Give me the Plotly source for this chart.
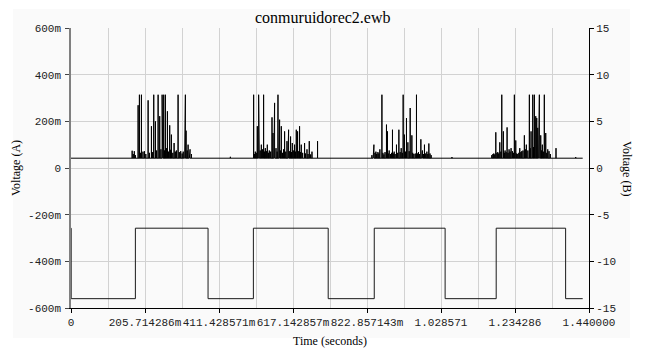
import plotly.graph_objects as go

# ---- Channel A: noise bursts (amperes on the left scale) ----
base_a = 0.042
t_end = 1.4225

burst1_t = [0.170, 0.173, 0.176, 0.179, 0.1866, 0.1902, 0.1930, 0.1958, 0.2000, 0.2041,
            0.2080, 0.2144, 0.2180, 0.2236, 0.2270, 0.2300, 0.2347, 0.2380, 0.2422, 0.2466,
            0.2500, 0.2533, 0.2550, 0.2577, 0.2600, 0.2624, 0.2650, 0.2680, 0.2710, 0.2744,
            0.2770, 0.2791, 0.2830, 0.2866, 0.2900, 0.2930, 0.2977, 0.3010, 0.3050, 0.3090,
            0.3120, 0.3160, 0.3180, 0.3199, 0.3230, 0.3255, 0.3290, 0.3310, 0.3347]
burst1_v = [0.074, 0.060, 0.072, 0.055, 0.269, 0.314, 0.065, 0.314, 0.070, 0.072,
            0.060, 0.290, 0.065, 0.179, 0.068, 0.314, 0.200, 0.075, 0.314, 0.222,
            0.080, 0.314, 0.090, 0.314, 0.075, 0.314, 0.085, 0.243, 0.070, 0.183,
            0.078, 0.143, 0.065, 0.107, 0.070, 0.075, 0.314, 0.068, 0.072, 0.062,
            0.070, 0.310, 0.314, 0.160, 0.075, 0.100, 0.070, 0.080, 0.060]

burst2_t = [0.5077, 0.5100, 0.5124, 0.5150, 0.5180, 0.5216, 0.5235, 0.5260, 0.5291, 0.5320,
            0.5354, 0.5380, 0.5402, 0.5430, 0.5457, 0.5490, 0.5513, 0.5550, 0.5588, 0.5615,
            0.5640, 0.5660, 0.5699, 0.5730, 0.5754, 0.5780, 0.5799, 0.5820, 0.5846, 0.5880,
            0.5910, 0.5938, 0.5970, 0.6004, 0.6030, 0.6049, 0.6080, 0.6104, 0.6130, 0.6152,
            0.6180, 0.6215, 0.6240, 0.6263, 0.6299, 0.6330, 0.6354, 0.6380, 0.6401, 0.6440,
            0.6493, 0.6520, 0.6560, 0.6590, 0.6624, 0.6660, 0.6699, 0.6854]
burst2_v = [0.314, 0.060, 0.070, 0.065, 0.179, 0.314, 0.314, 0.075, 0.100, 0.080,
            0.314, 0.070, 0.085, 0.072, 0.100, 0.065, 0.075, 0.070, 0.217, 0.150,
            0.080, 0.279, 0.085, 0.070, 0.314, 0.072, 0.207, 0.075, 0.179, 0.065,
            0.080, 0.157, 0.070, 0.115, 0.075, 0.164, 0.072, 0.135, 0.068, 0.107,
            0.075, 0.100, 0.070, 0.164, 0.157, 0.072, 0.179, 0.068, 0.100, 0.065,
            0.107, 0.062, 0.080, 0.060, 0.115, 0.058, 0.070, 0.115]

burst3_t = [0.8365, 0.8400, 0.8421, 0.8450, 0.8476, 0.8500, 0.8532, 0.8560, 0.8587, 0.8643,
            0.8670, 0.8698, 0.8730, 0.8770, 0.8798, 0.8820, 0.8845, 0.8880, 0.8910, 0.8937,
            0.8960, 0.8984, 0.9010, 0.9048, 0.9080, 0.9115, 0.9150, 0.9179, 0.9210, 0.9234,
            0.9270, 0.9300, 0.9326, 0.9365, 0.9400, 0.9429, 0.9476, 0.9500, 0.9531, 0.9570,
            0.9604, 0.9630, 0.9659, 0.9690, 0.9726, 0.9750, 0.9770, 0.9800, 0.9826, 0.9860,
            0.9893, 0.9920, 0.9948, 0.9980, 1.0012]
burst3_v = [0.055, 0.062, 0.100, 0.065, 0.070, 0.060, 0.068, 0.062, 0.080, 0.314,
            0.065, 0.058, 0.068, 0.186, 0.157, 0.062, 0.075, 0.060, 0.065, 0.164,
            0.062, 0.070, 0.060, 0.100, 0.065, 0.164, 0.068, 0.085, 0.065, 0.314,
            0.143, 0.070, 0.214, 0.110, 0.072, 0.257, 0.140, 0.065, 0.060, 0.062,
            0.314, 0.062, 0.068, 0.060, 0.123, 0.065, 0.075, 0.060, 0.100, 0.062,
            0.070, 0.060, 0.105, 0.062, 0.055]

burst4_t = [1.1698, 1.1730, 1.1753, 1.1780, 1.1809, 1.1840, 1.1864, 1.1890, 1.1920, 1.1950,
            1.1975, 1.2020, 1.2045, 1.2067, 1.2095, 1.2123, 1.2150, 1.2178, 1.2205, 1.2234,
            1.2270, 1.2300, 1.2325, 1.2364, 1.2390, 1.2420, 1.2450, 1.2475, 1.2505, 1.2531,
            1.2565, 1.2603, 1.2630, 1.2658, 1.2700, 1.2742, 1.2765, 1.2789, 1.2836, 1.2860,
            1.2881, 1.2920, 1.2947, 1.2975, 1.3000, 1.3020, 1.3058, 1.3080, 1.3103, 1.3130,
            1.3158, 1.3197, 1.3225, 1.3253, 1.3289, 1.3325, 1.3483]
burst4_v = [0.055, 0.060, 0.062, 0.058, 0.153, 0.065, 0.068, 0.062, 0.110, 0.070,
            0.314, 0.157, 0.065, 0.075, 0.068, 0.174, 0.065, 0.080, 0.070, 0.085,
            0.072, 0.065, 0.314, 0.118, 0.062, 0.060, 0.065, 0.085, 0.068, 0.072,
            0.075, 0.140, 0.080, 0.100, 0.075, 0.314, 0.085, 0.157, 0.314, 0.090,
            0.314, 0.222, 0.214, 0.172, 0.085, 0.314, 0.140, 0.075, 0.100, 0.070,
            0.314, 0.150, 0.065, 0.080, 0.072, 0.060, 0.085]

# small isolated blips between bursts
blip_t = [0.443, 1.059, 1.403]
blip_v = [0.048, 0.047, 0.047]

# ---- Channel B: square wave (volts on the right scale) ----
sq_t = [0.0, 0.0005, 0.179, 0.381, 0.507, 0.715, 0.843, 1.040, 1.182, 1.375, t_end]
sq_v = [-6.45, -14.0, -6.45, -14.0, -6.45, -14.0, -6.45, -14.0, -6.45, -14.0, -14.0]

# ---- Axis ticks ----
x_tickvals = [i * 1.44 / 7 for i in range(8)]
x_ticktext = ["0", "205.714286m", "411.428571m", "617.142857m", "822.857143m",
              "1.028571", "1.234286", "1.440000"]
ya_tickvals = [-0.6, -0.4, -0.2, 0.0, 0.2, 0.4, 0.6]
ya_ticktext = ["-600m", "-400m", "-200m", "0", "200m", "400m", "600m"]
yb_tickvals = [-15, -10, -5, 0, 5, 10, 15]

# Build the spike trace: each event is a vertical stroke rising from the baseline
events = sorted(zip(burst1_t + burst2_t + burst3_t + burst4_t + blip_t,
                    burst1_v + burst2_v + burst3_v + burst4_v + blip_v))
sx, sy = [0.0], [base_a]
for t, v in events:
    sx += [t, t, t]
    sy += [base_a, v, base_a]
sx.append(t_end)
sy.append(base_a)

fig = go.Figure()
fig.add_trace(go.Scatter(x=sq_t, y=sq_v, mode="lines", line=dict(color="#1a1a1a", width=1, shape="hv"),
                         yaxis="y2", showlegend=False, hoverinfo="skip"))
fig.add_trace(go.Scatter(x=sx, y=sy, mode="lines", line=dict(color="#000000", width=1),
                         showlegend=False, hoverinfo="skip"))

tick_font = dict(family="Liberation Mono", size=11, color="#222222")
serif = "Liberation Serif"
W, H = 646, 351
ml, mr, mt, mb = 71, 57, 28, 43
pw, ph = W - ml - mr, H - mt - mb


def px_x(px):
    return (px - ml) / pw


def px_y(py):
    return (H - mb - py) / ph


fig.update_layout(
    width=W, height=H,
    margin=dict(l=ml, r=mr, t=mt, b=mb, pad=0, autoexpand=False),
    paper_bgcolor="white",
    plot_bgcolor="#fafafa",
    showlegend=False,
    xaxis=dict(range=[0, 1.44], tickmode="array", tickvals=x_tickvals, ticktext=x_ticktext,
               tickangle=0, automargin=False,
               showgrid=True, gridcolor="#d2d2d2", gridwidth=1,
               minor=dict(tickmode="linear", tick0=0, dtick=1.44 / 14, showgrid=True,
                          gridcolor="#d2d2d2", gridwidth=1, ticks=""),
               showline=True, linecolor="#000000", linewidth=1,
               ticks="outside", ticklen=4, tickcolor="#000000", tickfont=tick_font,
               zeroline=False, fixedrange=True),
    yaxis=dict(range=[-0.6, 0.6], tickmode="array", tickvals=ya_tickvals, ticktext=ya_ticktext,
               automargin=False,
               showgrid=True, gridcolor="#d2d2d2", gridwidth=1,
               showline=True, linecolor="#808080", linewidth=1.5,
               ticks="outside", ticklen=4, tickcolor="#444444", tickfont=tick_font,
               ticklabelstandoff=2, zeroline=False, fixedrange=True),
    yaxis2=dict(range=[-15, 15], overlaying="y", side="right", tickmode="array",
                tickvals=yb_tickvals, ticktext=[str(v) for v in yb_tickvals],
                automargin=False,
                showgrid=False, showline=True, linecolor="#000000", linewidth=1,
                ticks="outside", ticklen=4, tickcolor="#000000", tickfont=tick_font,
                zeroline=False, fixedrange=True),
    shapes=[dict(type="rect", xref="paper", yref="paper", layer="below",
                 x0=px_x(13), x1=px_x(630), y0=px_y(338), y1=px_y(9),
                 fillcolor="#fafafa", line=dict(width=0))],
    annotations=[
        dict(text="conmuruidorec2.ewb", xref="paper", yref="paper", x=px_x(323), y=px_y(18),
             showarrow=False, font=dict(family=serif, size=16, color="#000000"),
             xanchor="center", yanchor="middle"),
        dict(text="Time (seconds)", xref="paper", yref="paper", x=px_x(330), y=px_y(341),
             showarrow=False, font=dict(family=serif, size=12, color="#000000"),
             xanchor="center", yanchor="middle"),
        dict(text="Voltage (A)", xref="paper", yref="paper", x=px_x(16), y=px_y(168),
             showarrow=False, textangle=-90, font=dict(family=serif, size=12, color="#000000"),
             xanchor="center", yanchor="middle"),
        dict(text="Voltage (B)", xref="paper", yref="paper", x=px_x(627), y=px_y(168),
             showarrow=False, textangle=90, font=dict(family=serif, size=12, color="#000000"),
             xanchor="center", yanchor="middle"),
    ],
)

fig.write_html("out.html")
